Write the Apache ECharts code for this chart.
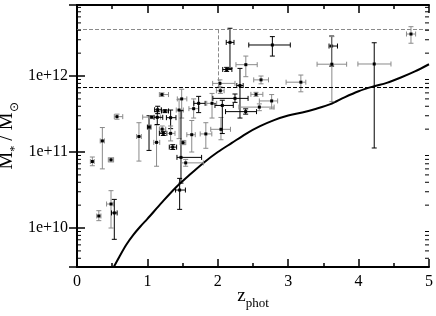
<!DOCTYPE html>
<html><head><meta charset="utf-8">
<script src="https://cdn.jsdelivr.net/npm/echarts@6/dist/echarts.min.js"></script>
<style>html,body{margin:0;padding:0;background:#fff}#c{width:436px;height:316px}</style>
</head><body><div id="c"></div>
<script>
// ---- data ----
const zPhot = [0.218,0.31,0.36,0.483,0.483,0.53,0.568,0.88,1.023,1.06,1.13,1.14,1.146,1.207,1.21,1.226,1.25,1.33,1.33,1.36,1.45,1.487,1.477,1.506,1.544,1.458,1.63,1.657,1.728,1.83,1.918,2.03,2.036,2.045,2.064,2.126,2.173,2.244,2.315,2.398,2.396,2.543,2.59,2.614,2.765,2.775,3.18,3.617,3.62,4.222,4.744];
const mass = [7.5e10,1.44e10,1.4e11,7.9e10,2.07e10,1.58e10,2.92e11,1.6e11,2.13e11,2.88e11,1.34e11,2.86e11,3.6e11,5.7e11,2.0e11,1.76e11,3.47e11,2.83e11,1.76e11,1.16e11,3.57e11,5.0e11,8.5e10,1.33e11,7.2e10,3.16e10,1.69e11,3.72e11,4.37e11,1.73e11,4.37e11,8.0e11,6.4e11,1.99e11,4.1e11,1.22e12,2.77e12,5.08e11,7.5e11,1.41e12,3.4e11,5.74e11,3.9e11,8.9e11,4.7e11,2.56e12,8.3e11,2.48e12,1.43e12,1.44e12,3.57e12];
const zLow = [0.19,0.28,0.33,0.445,0.42,0.49,0.53,0.847,1.0,0.933,1.09,1.095,1.103,1.17,1.17,1.17,1.20,1.27,1.275,1.311,1.41,1.425,1.42,1.465,1.48,1.40,1.56,1.59,1.66,1.75,1.843,1.927,1.98,1.90,1.96,2.07,2.12,1.93,2.27,2.258,2.11,2.47,2.3,2.51,2.59,2.44,2.97,3.58,3.41,3.99,4.68];
const zHigh = [0.245,0.34,0.39,0.52,0.515,0.57,0.65,0.914,1.05,1.188,1.175,1.218,1.197,1.30,1.26,1.275,1.30,1.406,1.392,1.415,1.51,1.56,1.77,1.545,1.795,1.54,1.68,1.73,1.82,1.915,1.984,2.244,2.09,2.18,2.22,2.2,2.23,2.43,2.36,2.56,2.55,2.64,2.8,2.72,2.85,3.03,3.25,3.70,3.83,4.46,4.81];
const massLow = [6.6e10,1.25e10,6.0e10,7.4e10,1.0e10,7.1e9,2.7e11,7.6e10,1.05e11,2.75e11,6.5e10,2.3e11,3.2e11,5.4e11,1.8e11,1.65e11,3.3e11,2.03e11,1.4e11,1.08e11,1.5e11,2.8e11,3.9e10,1.25e11,6.5e10,1.76e10,1.0e11,2.8e11,3.3e11,1.12e11,2.8e11,7.2e11,5.9e11,1.45e11,1.75e11,1.15e12,1.26e12,4.5e11,2.8e11,9.8e11,3.15e11,5.4e11,3.5e11,7.9e11,3.7e11,1.83e12,6.2e11,1.35e12,4.6e11,1.13e11,2.7e12];
const massHigh = [8.6e10,1.69e10,2.1e11,8.4e10,3.1e10,2.38e10,3.15e11,2.43e11,3.0e11,3.0e11,2.27e11,3.4e11,4.0e11,6.0e11,2.2e11,1.87e11,3.6e11,3.57e11,2.2e11,1.25e11,4.9e11,6.7e11,3.5e11,1.42e11,8.0e10,4.5e10,2.6e11,5.0e11,5.4e11,2.43e11,5.9e11,8.9e11,7.0e11,2.85e11,4.8e11,1.3e12,4.25e12,5.8e11,1.26e12,1.83e12,3.7e11,6.1e11,4.3e11,1.0e12,5.7e11,3.3e12,1.03e12,3.36e12,3.3e12,2.74e12,4.46e12];
// sample membership of the error bars (0 = grey sample, 1 = black sample)
const sampleX = [0,0,0,0,0,1,0,0,1,0,0,1,1,0,0,1,1,1,0,1,0,0,1,0,0,1,0,0,1,0,0,0,0,0,1,1,1,1,1,0,1,0,0,0,0,1,0,1,0,0,0];
const sampleY = [0,0,0,0,0,1,0,0,1,0,0,1,1,0,0,1,1,1,0,1,0,0,1,0,0,1,0,0,1,0,0,0,0,0,1,1,1,1,1,0,1,0,0,0,0,1,0,1,0,1,0];

const curveZ = [0.5,0.6,0.7,0.8,0.9,1.0,1.2,1.4,1.6,1.8,2.0,2.2,2.4,2.6,2.8,3.0,3.2,3.4,3.6,3.8,4.0,4.2,4.4,4.6,4.8,5.0];
const curveLogMass = [9.45,9.62,9.78,9.91,10.02,10.12,10.33,10.53,10.7,10.86,11.0,11.12,11.24,11.34,11.42,11.48,11.52,11.57,11.63,11.72,11.80,11.86,11.91,11.98,12.06,12.155];

const cutMassLow = 7.1e11;
const cutMassHigh = 4.07e12;
const cutZ = 2;

const xTicks = [0,1,2,3,4,5];
const yTickLabels = ['1e+10','1e+11','1e+12'];
const minorTickMass = [];
for (let e = 9; e <= 12; e++) for (let k = 2; k <= 9; k++) { const v = k * Math.pow(10, e); if (v > 3.07e9 && v < 8.6e12) minorTickMass.push(v); }

// ---- chart ----
const FONT = 'Liberation Serif';
const chart = echarts.init(document.getElementById('c'), null, {renderer: 'canvas'});
const errData = zPhot.map((z, i) => [z, mass[i], zLow[i], zHigh[i], massLow[i], massHigh[i], sampleX[i], sampleY[i]]);
const curveData = curveZ.map((z, i) => [z, Math.pow(10, curveLogMass[i])]);
const GREY = '#8a8a8a';

function seg(x1, y1, x2, y2, color) {
  return {type: 'line', shape: {x1, y1, x2, y2}, style: {stroke: color, lineWidth: 1}, silent: true};
}
function renderErr(params, api) {
  const z = api.value(0), m = api.value(1);
  const p = api.coord([z, m]);
  const pl = api.coord([api.value(2), m]), pr = api.coord([api.value(3), m]);
  const pb = api.coord([z, api.value(4)]), pt = api.coord([z, api.value(5)]);
  const cx = api.value(6) ? '#000' : GREY;
  const cy = api.value(7) ? '#000' : GREY;
  const c = 2.5;
  const ch = [
    seg(pl[0], p[1], pr[0], p[1], cx),
    seg(pl[0], p[1] - c, pl[0], p[1] + c, cx),
    seg(pr[0], p[1] - c, pr[0], p[1] + c, cx),
    seg(p[0], pb[1], p[0], pt[1], cy),
    seg(p[0] - c, pb[1], p[0] + c, pb[1], cy),
    seg(p[0] - c, pt[1], p[0] + c, pt[1], cy),
    {type: 'rect', shape: {x: p[0] - 1.5, y: p[1] - 1.5, width: 3, height: 3}, style: {fill: '#000'}, silent: true}
  ];
  return {type: 'group', children: ch};
}
function renderMinor(params, api) {
  const cs = params.coordSys;
  const y = api.coord([0, api.value(0)])[1];
  const x0 = cs.x, x1 = cs.x + cs.width;
  return {type: 'group', children: [seg(x0, y, x0 + 4, y, '#000'), seg(x1 - 4, y, x1, y, '#000')]};
}
function yLabel(v) {
  const l = Math.log10(v), e = Math.round(l);
  if (Math.abs(l - e) > 0.01) return '';
  const s = '1e+' + e;
  return yTickLabels.indexOf(s) >= 0 ? s : '';
}
const axisLine = {show: true, lineStyle: {color: '#000', width: 2}};
const xAxisBase = {type: 'value', min: xTicks[0], max: xTicks[xTicks.length - 1], interval: 1,
  axisLine, splitLine: {show: false},
  axisTick: {inside: true, length: 8, lineStyle: {color: '#000', width: 1.5}},
  minorTick: {show: true, splitNumber: 2, length: 4, lineStyle: {color: '#000', width: 1.5}}};
const yAxisBase = {type: 'log', min: 3.07e9, max: 8.6e12, logBase: 10,
  axisLine, splitLine: {show: false},
  axisTick: {inside: true, length: 8, lineStyle: {color: '#000', width: 1.5}}};

chart.setOption({
  animation: false,
  grid: {left: 77, right: 7, top: 5, bottom: 49, containLabel: false, outerBoundsMode: 'none'},
  xAxis: [
    Object.assign({}, xAxisBase, {position: 'bottom',
      axisLabel: {show: true, margin: 7, color: '#000', fontFamily: FONT, fontSize: 16},
      name: '{z|z}{s|phot}', nameLocation: 'middle', nameGap: 20, nameMoveOverlap: false,
      nameTextStyle: {rich: {z: {fontFamily: FONT, fontSize: 19, color: '#000', verticalAlign: 'bottom'}, s: {fontFamily: FONT, fontSize: 13, color: '#000', verticalAlign: 'bottom', padding: [0, 0, -4, 0]}}}}),
    Object.assign({}, xAxisBase, {position: 'top', axisLabel: {show: false}})
  ],
  yAxis: [
    Object.assign({}, yAxisBase, {position: 'left',
      axisLabel: {show: true, margin: 9, color: '#000', fontFamily: FONT, fontSize: 16, formatter: yLabel, showMinLabel: false, showMaxLabel: false},
      name: '{m|M}{s|*}{m| / M}{s|\u2299}', nameLocation: 'middle', nameGap: 60, nameRotate: 90, nameMoveOverlap: false,
      nameTextStyle: {rich: {m: {fontFamily: FONT, fontSize: 20, color: '#000', verticalAlign: 'bottom'}, s: {fontFamily: FONT, fontSize: 12, color: '#000', verticalAlign: 'bottom', padding: [0, 0, -4, 0]}}}}),
    Object.assign({}, yAxisBase, {position: 'right', axisLabel: {show: false}})
  ],
  series: [
    {type: 'line', data: curveData, showSymbol: false, symbol: 'none', clip: true,
      lineStyle: {color: '#000', width: 2}, smooth: 0.3, silent: true, z: 3,
      markLine: {silent: true, symbol: 'none', label: {show: false}, animation: false,
        data: [
          {yAxis: cutMassLow, lineStyle: {color: '#000', type: [4, 2], width: 1}},
          {yAxis: cutMassHigh, lineStyle: {color: GREY, type: [4, 2], width: 1}},
          [{coord: [cutZ, cutMassLow], lineStyle: {color: GREY, type: [4, 2], width: 1}}, {coord: [cutZ, cutMassHigh]}]
        ]}},
    {type: 'custom', data: errData, renderItem: renderErr, encode: {x: [0, 2, 3], y: [1, 4, 5]}, silent: true, z: 4},
    {type: 'custom', data: minorTickMass.map(v => [v]), renderItem: renderMinor, encode: {y: 0}, silent: true, z: 5}
  ]
});
</script></body></html>
